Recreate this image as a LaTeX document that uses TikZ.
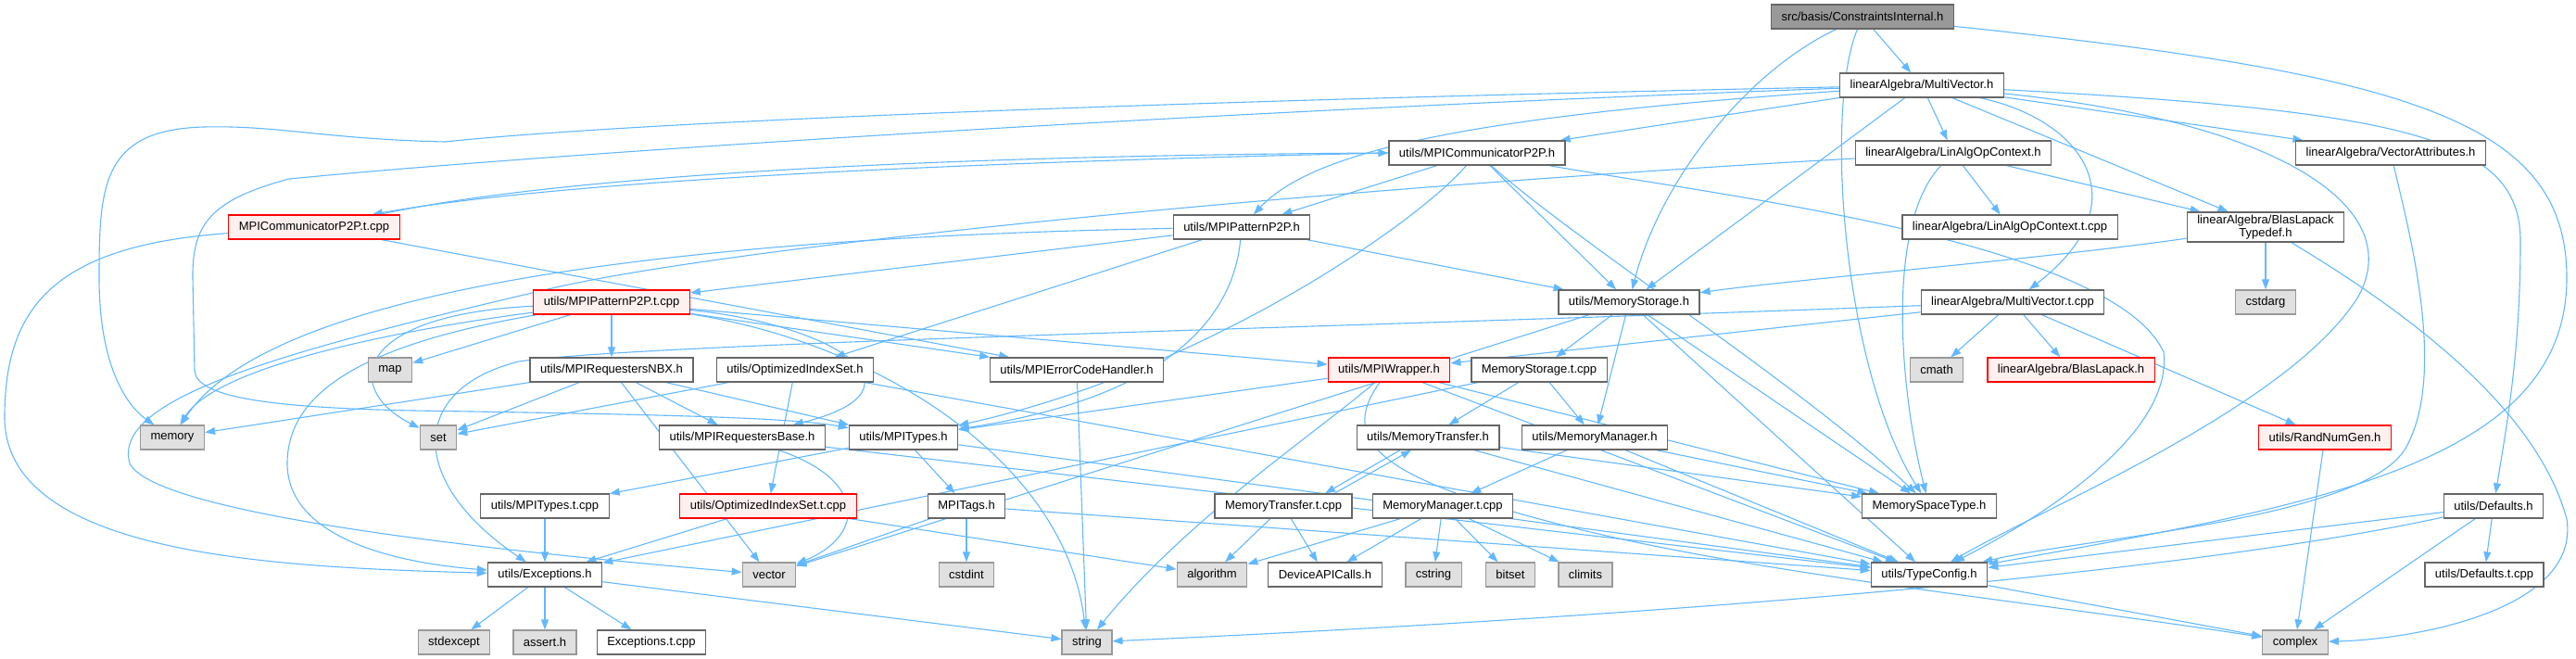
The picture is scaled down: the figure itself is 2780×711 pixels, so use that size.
\documentclass[tikz,border=0pt]{standalone}
\usepackage{fontspec}
\setmainfont{Liberation Sans}
\usetikzlibrary{arrows.meta}
\pgfdeclarelayer{background}
\pgfsetlayers{background,main}
\definecolor{edgeblue}{HTML}{63B8FF}
\definecolor{boxline}{HTML}{666666}
\definecolor{sysfill}{HTML}{E0E0E0}
\definecolor{sysline}{HTML}{999999}
\definecolor{redfill}{HTML}{FFF0F0}
\definecolor{rootfill}{HTML}{999999}
\tikzset{
  nd/.style={draw=boxline, line width=1.3pt, fill=white, rectangle, minimum height=26pt,
    inner xsep=11pt, inner ysep=3pt, font=\fontsize{13}{15}\selectfont},
  ndred/.style={nd, draw=red, fill=redfill},
  sys/.style={nd, draw=sysline, fill=sysfill},
  rootnd/.style={nd, fill=rootfill},
  edge/.style={draw=edgeblue, line width=1.1pt, -{Triangle[length=11pt,width=8pt]}}
}
\begin{document}
\begin{tikzpicture}[x=1pt,y=-1pt]
\useasboundingbox (0,0) rectangle (2780,711);
\node[rootnd] (ci) at (2010,18) {src/basis/ConstraintsInternal.h};
\node[nd] (mv) at (2074,92) {linearAlgebra/MultiVector.h};
\node[nd] (cp) at (1594,165) {utils/MPICommunicatorP2P.h};
\node[nd] (lao) at (2108,165) {linearAlgebra/LinAlgOpContext.h};
\node[nd] (va) at (2580,165) {linearAlgebra/VectorAttributes.h};
\node[ndred] (cpt) at (339,245) {MPICommunicatorP2P.t.cpp};
\node[nd] (pp) at (1340,245) {utils/MPIPatternP2P.h};
\node[nd] (laot) at (2169,245) {linearAlgebra/LinAlgOpContext.t.cpp};
\node[nd, align=center, font=\fontsize{13}{14}\selectfont] (blt) at (2445,245) {linearAlgebra/BlasLapack\\Typedef.h};
\node[ndred] (ppt) at (660,326) {utils/MPIPatternP2P.t.cpp};
\node[nd] (ms) at (1758,326) {utils/MemoryStorage.h};
\node[nd] (mvt) at (2172,326) {linearAlgebra/MultiVector.t.cpp};
\node[sys] (cstdarg) at (2445,326) {cstdarg};
\node[sys] (map) at (421,399) {map};
\node[nd] (nbx) at (660,399) {utils/MPIRequestersNBX.h};
\node[nd] (ois) at (858,399) {utils/OptimizedIndexSet.h};
\node[nd] (ech) at (1162,399) {utils/MPIErrorCodeHandler.h};
\node[ndred] (wrap) at (1499,399) {utils/MPIWrapper.h};
\node[nd] (mstcpp) at (1661,399) {MemoryStorage.t.cpp};
\node[sys] (cmath) at (2090,399) {cmath};
\node[ndred] (bl) at (2235,399) {linearAlgebra/BlasLapack.h};
\node[sys] (memory) at (186,472) {memory};
\node[sys] (set) at (473,472) {set};
\node[nd] (rb) at (801,472) {utils/MPIRequestersBase.h};
\node[nd] (types) at (975,472) {utils/MPITypes.h};
\node[nd] (mt) at (1541,472) {utils/MemoryTransfer.h};
\node[nd] (mm) at (1721,472) {utils/MemoryManager.h};
\node[ndred] (rng) at (2509,472) {utils/RandNumGen.h};
\node[nd] (typest) at (588,546) {utils/MPITypes.t.cpp};
\node[ndred] (oist) at (829,546) {utils/OptimizedIndexSet.t.cpp};
\node[nd] (tags) at (1043,546) {MPITags.h};
\node[nd] (mtt) at (1385,546) {MemoryTransfer.t.cpp};
\node[nd] (mmt) at (1557,546) {MemoryManager.t.cpp};
\node[nd] (mspace) at (2082,546) {MemorySpaceType.h};
\node[nd] (defs) at (2691,546) {utils/Defaults.h};
\node[nd] (exc) at (588,620) {utils/Exceptions.h};
\node[sys] (vector) at (830,620) {vector};
\node[sys] (cstdint) at (1043,620) {cstdint};
\node[sys] (algorithm) at (1308,620) {algorithm};
\node[nd] (dapi) at (1430,620) {DeviceAPICalls.h};
\node[sys] (cstring) at (1547,620) {cstring};
\node[sys] (bitset) at (1630,620) {bitset};
\node[sys] (climits) at (1711,620) {climits};
\node[nd] (tc) at (2082,620) {utils/TypeConfig.h};
\node[nd] (defst) at (2681,620) {utils/Defaults.t.cpp};
\node[sys] (stdexcept) at (490,693) {stdexcept};
\node[sys] (assert) at (588,693) {assert.h};
\node[nd] (exct) at (703,693) {Exceptions.t.cpp};
\node[sys] (string) at (1173,693) {string};
\node[sys] (complex) at (2477,693) {complex};
\begin{pgfonlayer}{background}
% ConstraintsInternal.h
\draw[edge] (ci) -- (mv);
\draw[edge] (ci) .. controls (1880,80) and (1790,200) .. (ms);
\draw[edge] (ci) .. controls (1968,120) and (1990,400) .. (mspace);
\draw[edge] (ci) .. controls (2600,80) and (2770,130) .. (2770,300) .. controls (2770,500) and (2500,545) .. (tc);
% MultiVector.h
\draw[edge] (mv) .. controls (1300,108) and (700,130) .. (480,153) .. controls (350,150) and (300,135) .. (220,137) .. controls (110,140) and (107,200) .. (107,300) .. controls (107,400) and (140,440) .. (memory);
\draw[edge] (mv) .. controls (1300,120) and (600,165) .. (312,193) .. controls (230,215) and (207,240) .. (208,300) -- (210,400) .. controls (212,430) and (300,440) .. (446,443) .. controls (700,447) and (850,450) .. (types);
\draw[edge] (mv) -- (cp);
\draw[edge] (mv) .. controls (1600,125) and (1420,160) .. (pp);
\draw[edge] (mv) -- (lao);
\draw[edge] (mv) -- (va);
\draw[edge] (mv) -- (blt);
\draw[edge] (mv) -- (ms);
\draw[edge] (mv) .. controls (2250,130) and (2310,220) .. (mvt);
\draw[edge] (mv) .. controls (2450,130) and (2600,220) .. (2545,320) .. controls (2470,440) and (2200,550) .. (tc);
\draw[edge] (mv) .. controls (2600,120) and (2720,150) .. (2720,260) .. controls (2720,380) and (2705,460) .. (defs);
% MPICommunicatorP2P.h
\draw[edge] (cp.west) .. controls (1000,176) and (600,196) .. ([xshift=-30pt]cpt.north east);
\draw[edge] ([xshift=-22pt]cpt.north east) .. controls (600,190) and (1000,168) .. (cp.west);
\draw[edge] (cp) -- (pp);
\draw[edge] (cp) -- (ms);
\draw[edge] (cp) .. controls (1700,260) and (1950,420) .. (mspace);
\draw[edge] (cp) .. controls (1530,240) and (1300,400) .. (types);
\draw[edge] (cp) .. controls (1850,210) and (2280,260) .. (2335,380) .. controls (2345,470) and (2200,560) .. (tc);
% MPICommunicatorP2P.t.cpp
\draw[edge] (cpt) .. controls (60,265) and (5,330) .. (5,450) .. controls (5,600) and (300,612) .. (exc);
\draw[edge] (cpt) -- (ech);
% LinAlgOpContext.h
\draw[edge] (lao) .. controls (1400,205) and (800,265) .. (600,310) .. controls (300,380) and (120,430) .. (140,500) .. controls (170,560) and (600,600) .. (vector);
\draw[edge] (lao) -- (laot);
\draw[edge] (lao) -- (blt);
\draw[edge] (lao) .. controls (2035,240) and (2050,420) .. (mspace);
\draw[edge] (va) .. controls (2600,250) and (2640,400) .. (2598,480) .. controls (2560,560) and (2250,580) .. (tc);
% BlasLapackTypedef.h
\draw[edge] (blt) .. controls (2200,280) and (1950,300) .. (ms);
\draw[edge] (blt) -- (cstdarg);
\draw[edge] (blt) .. controls (2620,350) and (2740,450) .. (2770,560) .. controls (2785,660) and (2600,690) .. (complex);
% MPIPatternP2P.h
\draw[edge] (pp) -- (ppt);
\draw[edge] (pp) .. controls (800,255) and (300,300) .. (memory);
\draw[edge] (pp) -- (ois);
\draw[edge] (pp) .. controls (1330,350) and (1250,430) .. (types);
\draw[edge] (pp) -- (ms);
% MPIPatternP2P.t.cpp
\draw[edge] (ppt) -- (map);
\draw[edge] (ppt) -- (nbx);
\draw[edge] (ppt) .. controls (400,360) and (230,400) .. (memory);
\draw[edge] (ppt) .. controls (380,340) and (370,420) .. (set);
\draw[edge] (ppt) -- (wrap);
\draw[edge] (ppt) -- (ech);
\draw[edge] (ppt) .. controls (900,350) and (1010,420) .. (rb);
\draw[edge] (ppt) .. controls (950,370) and (1150,500) .. (string);
\draw[edge] (ppt) .. controls (400,370) and (310,420) .. (310,500) .. controls (310,570) and (400,605) .. (exc);
% MPIRequestersNBX.h
\draw[edge] (nbx) -- (memory);
\draw[edge] (nbx) -- (set);
\draw[edge] (nbx) -- (rb);
\draw[edge] (nbx) -- (types);
\draw[edge] (nbx) -- (vector);
% OptimizedIndexSet.h
\draw[edge] (ois) -- (set);
\draw[edge] (ois) -- (oist);
\draw[edge] (ois) -- (tc);
\draw[edge] (ech) -- (string);
% MPIWrapper.h
\draw[edge] (wrap) -- (types);
\draw[edge] (wrap) .. controls (1430,460) and (1280,560) .. (string);
\draw[edge] (wrap) .. controls (1440,480) and (1500,520) .. (1700,570) .. controls (1900,620) and (2200,650) .. (complex);
\draw[edge] (wrap) -- (mspace);
\draw[edge] (wrap) -- (tc);
% MemoryStorage.h
\draw[edge] (ms) -- (mstcpp);
\draw[edge] (ms) -- (mm);
\draw[edge] (ms) -- (mspace);
\draw[edge] (ms) -- (tc);
\draw[edge] (ms) -- (vector);
% MultiVector.t.cpp
\draw[edge] (mvt) -- (wrap);
\draw[edge] (mvt) -- (bl);
\draw[edge] (mvt) -- (cmath);
\draw[edge] (mvt) -- (rng);
\draw[edge] (mvt) .. controls (1400,355) and (700,370) .. (560,390) .. controls (440,420) and (440,520) .. (exc);
% MemoryStorage.t.cpp
\draw[edge] (mstcpp) -- (mt);
\draw[edge] (mstcpp) -- (mm);
\draw[edge] (mstcpp) -- (exc);
% MPIRequestersBase.h, MPITypes.h
\draw[edge] (rb) .. controls (940,520) and (930,580) .. (vector);
\draw[edge] (rb) -- (tc);
\draw[edge] (types) -- (typest);
\draw[edge] (types) -- (tags);
\draw[edge] (types) -- (tc);
% MemoryTransfer.h, MemoryManager.h
\draw[edge] ([xshift=-30pt]mt.south) -- ([xshift=45pt]mtt.north);
\draw[edge] ([xshift=55pt]mtt.north) -- ([xshift=-18pt]mt.south);
\draw[edge] (mt) -- (mspace);
\draw[edge] (mt) -- (tc);
\draw[edge] (mm) -- (mmt);
\draw[edge] (mm) -- (mspace);
\draw[edge] (mm) -- (tc);
\draw[edge] (rng) -- (complex);
\draw[edge] (typest) -- (exc);
\draw[edge] (oist) -- (exc);
\draw[edge] (oist) -- (algorithm);
% MPITags.h
\draw[edge] (tags) -- (vector);
\draw[edge] (tags) -- (cstdint);
\draw[edge] (tags) -- (tc);
% .t.cpp files
\draw[edge] (mtt) -- (algorithm);
\draw[edge] (mtt) -- (dapi);
\draw[edge] (mmt) -- (algorithm);
\draw[edge] (mmt) -- (dapi);
\draw[edge] (mmt) -- (cstring);
\draw[edge] (mmt) -- (bitset);
\draw[edge] (mmt) -- (climits);
% Defaults.h
\draw[edge] (defs) -- (tc);
\draw[edge] (defs) -- (defst);
\draw[edge] (defs) -- (complex);
\draw[edge] (defs) .. controls (2400,610) and (1900,660) .. (string);
% Exceptions.h
\draw[edge] (exc) -- (stdexcept);
\draw[edge] (exc) -- (assert);
\draw[edge] (exc) -- (exct);
\draw[edge] (exc) -- (string);
\draw[edge] (tc) -- (complex);
\end{pgfonlayer}
\end{tikzpicture}
\end{document}
